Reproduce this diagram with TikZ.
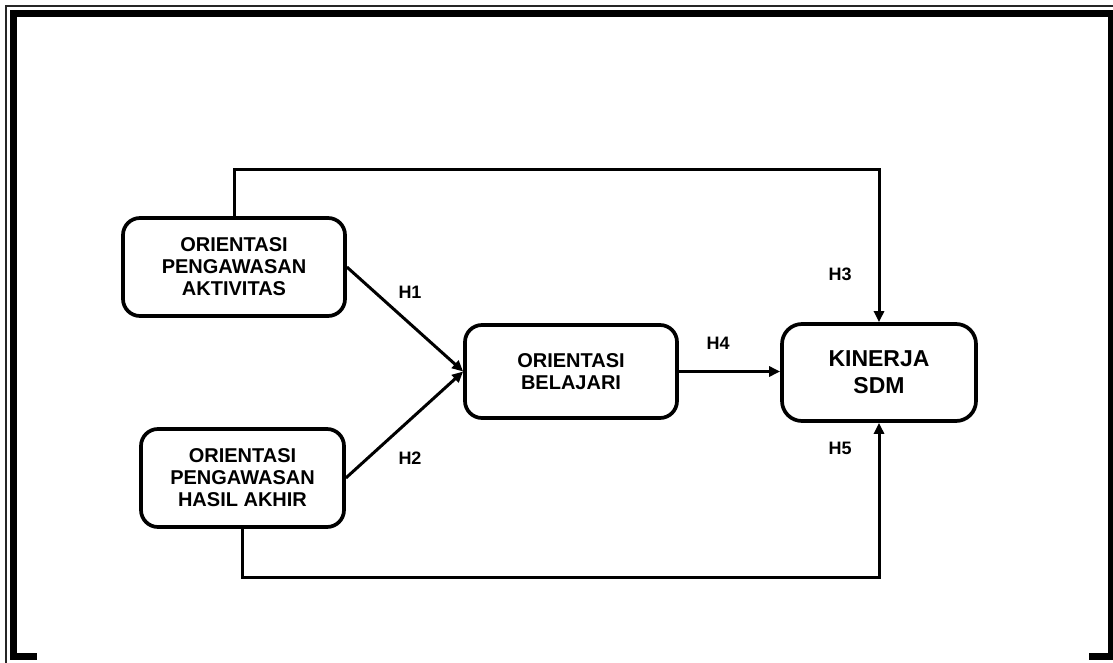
\documentclass[tikz,border=0pt]{standalone}
\usepackage{fontspec}
\setmainfont{Liberation Sans}
\usetikzlibrary{arrows.meta}
\tikzset{
  box/.style={draw=black, line width=3.7pt, rounded corners=17pt, fill=white, align=center,
    inner sep=0pt, font=\fontsize{20}{22}\selectfont\bfseries},
  conn/.style={draw=black, line width=3pt},
  arr/.style={conn, -{Triangle[length=11pt,width=10pt]}},
  hyp/.style={font=\fontsize{18}{20}\selectfont\bfseries, inner sep=0pt},
  band/.style={fill=black, draw=none},
}
\begin{document}
\begin{tikzpicture}[x=1pt, y=-1pt]
\useasboundingbox (0,0) rectangle (1113,663);
% frame
\draw[line width=1.5pt, black!85] (5,6) -- (1113,6);
\draw[line width=1.5pt, black!85] (6,6) -- (6,663);
\fill[band] (10,10) rectangle (1113,17);
\fill[band] (10,10) rectangle (17,660);
\fill[band] (10,653) rectangle (37,660);
\fill[band] (1108,10) rectangle (1113,660);
\fill[band] (1089,653) rectangle (1113,660);
% nodes
\node[box, minimum width=222pt, minimum height=98pt] (A) at (234,267) {ORIENTASI\\PENGAWASAN\\AKTIVITAS};
\node[box, minimum width=203pt, minimum height=98pt] (B) at (242.5,478) {ORIENTASI\\PENGAWASAN\\HASIL AKHIR};
\node[box, minimum width=212pt, minimum height=93pt] (C) at (571,371.5) {ORIENTASI\\BELAJARI};
\node[box, minimum width=194pt, minimum height=97pt, rounded corners=20pt,
      font=\fontsize{23}{27}\selectfont\bfseries] (D) at (879,372.5) {KINERJA\\SDM};
% turning points
\coordinate (t1) at (A.north |- 0,170);
\coordinate (t2) at (D.north |- 0,170);
\coordinate (b1) at (B.south |- 0,577);
\coordinate (b2) at (D.south |- 0,577);
% connectors
\draw[arr] (A.east) -- (C.west);
\draw[arr] (B.east) -- (C.west);
\draw[arr] (C.east) -- (D.west |- C.east);
\draw[arr] (A.north) -- (t1) -- (t2) -- (D.north);
\draw[arr] (B.south) -- (b1) -- (b2) -- (D.south);
% labels
\node[hyp] (h1) at (410,292) {H1};
\node[hyp] (h2) at (410,458) {H2};
\node[hyp] (h3) at (840,274) {H3};
\node[hyp] (h4) at (718,343) {H4};
\node[hyp] (h5) at (840,448) {H5};
\end{tikzpicture}
\end{document}
